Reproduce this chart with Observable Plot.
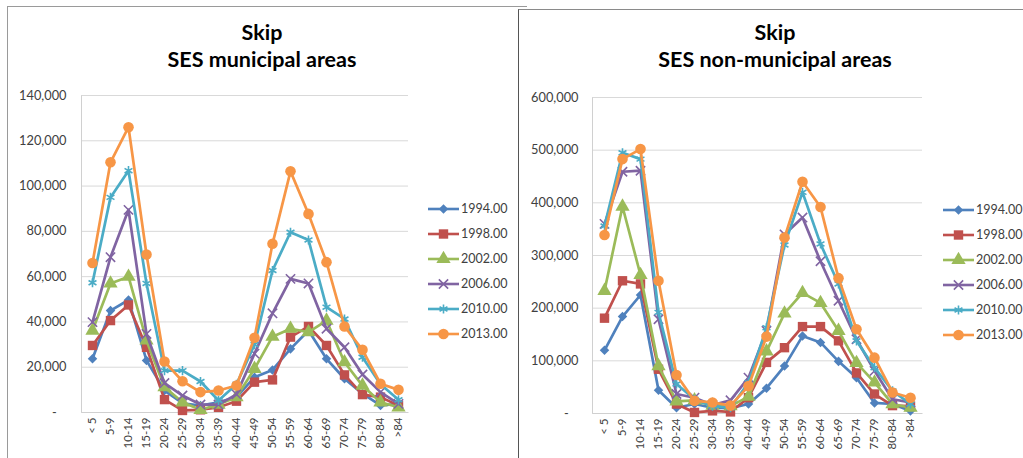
<!DOCTYPE html>
<html><head><meta charset="utf-8">
<script src="https://cdn.jsdelivr.net/npm/d3@7"></script>
<script src="https://cdn.jsdelivr.net/npm/@observablehq/plot@0.6"></script>
<style>
body{margin:0;background:#fff;width:1023px;height:458px;overflow:hidden;position:relative;font-family:Lato,sans-serif}
.box{position:absolute;box-sizing:border-box}
.chart{position:absolute;top:0}
.title{position:absolute;font-weight:bold;font-size:21.5px;text-align:center;line-height:27px;color:#000;width:360px}
.legend{position:absolute;font-size:12.5px;color:#404040}
.legend .item{height:25px;display:flex;align-items:center}
.legend svg{margin-right:2px}
</style></head><body>
<script>
const ageGroups = ["< 5","5-9","10-14","15-19","20-24","25-29","30-34","35-39","40-44","45-49","50-54","55-59","60-64","65-69","70-74","75-79","80-84",">84"];
const years = ["1994.00","1998.00","2002.00","2006.00","2010.00","2013.00"];
const colors = ["#4F81BD","#C0504D","#9BBB59","#8064A2","#4BACC6","#F79646"];
const symbols = ["diamond2","square","triangle","times","asterisk","circle"];

// SES municipal areas
const mun1994 = [23700,45000,49700,23000,9700,4100,3100,4500,6800,15600,18800,28100,36200,23700,14900,8300,3100,3800];
const mun1998 = [29600,40600,47500,28800,5700,900,1200,2300,5000,13400,14400,33300,38000,29600,16600,7900,6800,3100];
const mun2002 = [36200,57000,60000,31800,11200,4500,1200,3500,6800,19300,33500,37000,35500,40600,22200,11900,4500,2300];
const mun2006 = [39900,68600,89500,34700,13000,7500,3500,3500,8000,26000,43800,59000,57000,37000,28800,16800,9000,3800];
const mun2010 = [57300,95000,106800,57000,18500,18500,13700,5300,12500,30000,62700,79600,76200,46500,41300,24400,12500,5600];
const mun2013 = [66000,110500,126000,69800,22500,13800,9000,9700,11900,33000,74500,106500,87700,66400,38000,27700,12700,10000];
const munTicks = [0,20000,40000,60000,80000,100000,120000,140000];

// SES non-municipal areas
const non1994 = [120000,184000,225000,44000,11000,18000,11000,10000,18000,48000,90000,147000,135000,99000,68000,20000,18000,5000];
const non1998 = [181000,252000,246000,84000,18000,2000,5000,3000,30000,97000,125000,165000,165000,138000,77000,37000,15000,14000];
const non2002 = [233000,393000,263000,90000,23000,25000,15000,14000,32000,118000,190000,229000,210000,157000,96000,59000,18000,11000];
const non2006 = [360000,459000,461000,179000,37000,30000,16000,25000,68000,157000,340000,372000,289000,214000,141000,81000,27000,21000];
const non2010 = [356000,495000,483000,192000,56000,27000,14000,11000,59000,163000,320000,420000,322000,246000,138000,87000,43000,18000];
const non2013 = [339000,483000,502000,252000,73000,24000,21000,15000,52000,146000,334000,440000,392000,257000,160000,106000,40000,30000];
const nonTicks = [0,100000,200000,300000,400000,500000,600000];

const sizes = [4.3, 5.3, 5.3, 4.3, 4.3, 5.3];

function table(seriesList){
  const rows = [];
  seriesList.forEach((vals, s) => vals.forEach((v, i) => rows.push({age: ageGroups[i], value: v, year: years[s], s})));
  return rows;
}

function makeChart(seriesList, ticks, opts){
  const rows = table(seriesList);
  const fmt = d => d === 0 ? "-\u00a0\u00a0\u00a0" : d3.format(",")(d);
  const w = opts.width - opts.marginLeft - opts.marginRight;
  const h = opts.height - opts.marginTop - opts.marginBottom;
  const marks = [
    Plot.gridY(ticks, {stroke: "#d9d9d9", strokeOpacity: 1}),
    Plot.frame({stroke: "#d0d0d0", strokeDasharray: `0 ${w + h} ${w + h} 0`}),
    Plot.axisY(ticks, {tickSize: 0, tickPadding: opts.tickPadding, tickFormat: fmt, fontSize: 12.8, fill: "#404040"}),
    Plot.axisX({tickRotate: -90, tickSize: 0, tickPadding: 5, fontSize: 11.5, fill: "#404040"})
  ];
  years.forEach((y, s) => {
    const d = rows.filter(r => r.s === s);
    marks.push(Plot.line(d, {x: "age", y: "value", stroke: colors[s], strokeWidth: 2.7, strokeLinejoin: "round"}));
    const hollow = symbols[s] === "times" || symbols[s] === "asterisk";
    marks.push(Plot.dot(d, {x: "age", y: "value", symbol: symbols[s], r: sizes[s],
      fill: hollow ? "none" : colors[s], stroke: hollow ? colors[s] : "none", strokeWidth: 1.6}));
  });
  return Plot.plot({
    width: opts.width, height: opts.height,
    marginLeft: opts.marginLeft, marginRight: opts.marginRight,
    marginTop: opts.marginTop, marginBottom: opts.marginBottom,
    style: {fontFamily: "Lato, sans-serif", background: "transparent", overflow: "visible"},
    x: {type: "point", domain: ageGroups, padding: 0.5, label: null, axis: null},
    y: {domain: [0, ticks[ticks.length - 1]], label: null, axis: null},
    marks
  });
}

function legend(x, y){
  const div = document.createElement("div");
  div.className = "legend";
  div.style.left = x + "px";
  div.style.top = y + "px";
  years.forEach((yr, s) => {
    const item = document.createElement("div");
    item.className = "item";
    const svg = d3.create("svg").attr("width", 31).attr("height", 16);
    svg.append("line").attr("x1", 0).attr("x2", 31).attr("y1", 8).attr("y2", 8)
      .attr("stroke", colors[s]).attr("stroke-width", 2.6);
    const symMap = {diamond2: d3.symbolDiamond2, square: d3.symbolSquare, triangle: d3.symbolTriangle,
      times: d3.symbolTimes, asterisk: d3.symbolAsterisk, circle: d3.symbolCircle};
    const hollow = symbols[s] === "times" || symbols[s] === "asterisk";
    svg.append("path").attr("transform", "translate(15.5,8)")
      .attr("d", d3.symbol(symMap[symbols[s]], sizes[s] * sizes[s] * Math.PI)())
      .attr("fill", hollow ? "none" : colors[s]).attr("stroke", hollow ? colors[s] : "none").attr("stroke-width", 1.6);
    item.appendChild(svg.node());
    const t = document.createElement("span");
    t.textContent = yr;
    item.appendChild(t);
    div.appendChild(item);
  });
  document.body.appendChild(div);
}

// panel borders
const b1 = document.createElement("div");
b1.className = "box";
Object.assign(b1.style, {left: "7px", top: "6px", width: "520px", height: "470px", borderTop: "1px solid #9a9a9a", borderLeft: "1px solid #9a9a9a"});
document.body.appendChild(b1);
const b2 = document.createElement("div");
b2.className = "box";
Object.assign(b2.style, {left: "518px", top: "9px", width: "520px", height: "470px", borderTop: "1px solid #8a8a8a", borderLeft: "1.5px solid #555", background: "#fff"});
document.body.appendChild(b2);

// charts
const c1 = makeChart([mun1994, mun1998, mun2002, mun2006, mun2010, mun2013], munTicks,
  {width: 420, height: 458, marginLeft: 81, marginRight: 12, marginTop: 95, marginBottom: 46, tickPadding: 15});
c1.classList.add("chart"); c1.style.left = "0px";
document.body.appendChild(c1);

const c2 = makeChart([non1994, non1998, non2002, non2006, non2010, non2013], nonTicks,
  {width: 420, height: 458, marginLeft: 82, marginRight: 8, marginTop: 97, marginBottom: 45, tickPadding: 14});
c2.classList.add("chart"); c2.style.left = "510px";
document.body.appendChild(c2);

// titles
function title(cx, lines){
  const d = document.createElement("div");
  d.className = "title";
  d.style.left = (cx - 180) + "px";
  d.style.top = "19px";
  d.innerHTML = lines.join("<br>");
  document.body.appendChild(d);
}
title(262, ["Skip", "SES municipal areas"]);
title(775, ["Skip", "SES non-municipal areas"]);

legend(428, 196);
legend(943, 197);
</script>
</body></html>
